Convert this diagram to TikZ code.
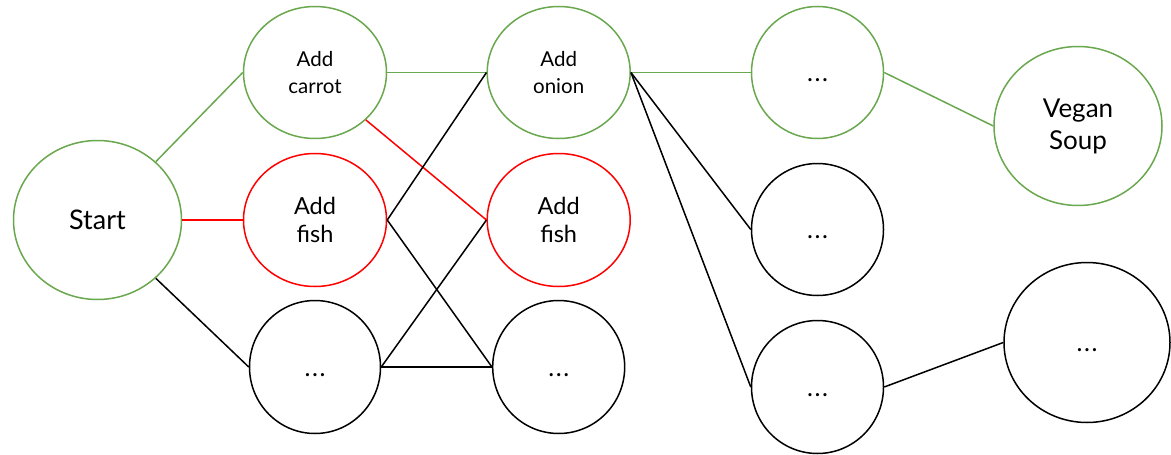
\documentclass[tikz,border=0pt]{standalone}
\usepackage{fontspec}
\setmainfont{Lato}
\usetikzlibrary{shapes.geometric}
\definecolor{vgreen}{HTML}{6AA84F}
\definecolor{vred}{HTML}{FF0000}
\newcommand{\mydots}{.\kern1.6pt.\kern1.6pt.}
\tikzset{
  state/.style={ellipse, draw, line width=1.5pt, inner sep=0pt, align=center, text=black},
  gstate/.style={state, draw=vgreen},
  rstate/.style={state, draw=vred},
  kstate/.style={state, draw=black},
  small/.style={font=\fontsize{20.5}{26.7}\selectfont},
  mid/.style={font=\fontsize{23.5}{28}\selectfont},
  big/.style={font=\fontsize{26}{32}\selectfont},
  dots/.style={font=\fontsize{25}{25}\selectfont, text height=18.6pt, text depth=0pt},
  gedge/.style={draw=vgreen, line width=1.5pt},
  redge/.style={draw=vred, line width=1.5pt},
  kedge/.style={draw=black, line width=1.5pt},
}
\begin{document}
\begin{tikzpicture}[x=1pt,y=-1pt]
\useasboundingbox (0,0) rectangle (1171,455);
\node[gstate, big, font=\fontsize{27}{32}\selectfont, minimum width=168pt, minimum height=159pt] (start) at (97.5,220) {Start};
\node[gstate, small, minimum width=143pt, minimum height=132pt] (carrot) at (315,72.5) {Add\\carrot};
\node[rstate, mid, minimum width=143pt, minimum height=133pt] (fish1) at (315,220) {Add\\fish};
\node[kstate, dots, minimum width=131pt, minimum height=133pt] (d1) at (315,367) {\mydots};
\node[gstate, small, minimum width=143pt, minimum height=132pt] (onion) at (558.7,72.5) {Add\\onion};
\node[rstate, mid, minimum width=143pt, minimum height=133pt] (fish2) at (558.7,220) {Add\\fish};
\node[kstate, dots, minimum width=132pt, minimum height=133pt] (d2) at (558.7,367) {\mydots};
\node[gstate, dots, minimum width=132pt, minimum height=132pt] (c3a) at (817.5,72.5) {\mydots};
\node[kstate, dots, minimum width=132pt, minimum height=132pt] (c3b) at (817.5,229.5) {\mydots};
\node[kstate, dots, minimum width=132pt, minimum height=133pt] (c3c) at (817.5,387) {\mydots};
\node[gstate, big, minimum width=168pt, minimum height=159pt] (vegan) at (1078,126) {Vegan\\Soup};
\node[kstate, dots, minimum width=166pt, minimum height=160pt] (rd) at (1087,342.5) {\mydots};
\draw[gedge] (start.45) -- (carrot.west);
\draw[redge] (start.east) -- (fish1.west);
\draw[kedge] (start.-45) -- (d1.west);
\draw[gedge] (carrot.east) -- (onion.west);
\draw[redge] (carrot.-43) -- (fish2.west);
\draw[kedge] (fish1.east) -- (onion.west);
\draw[kedge] (fish1.east) -- (d2.west);
\draw[kedge] (d1.east) -- (fish2.west);
\draw[kedge] (d1.east) -- (d2.west);
\draw[gedge] (onion.east) -- (c3a.west);
\draw[kedge] (onion.east) -- (c3b.west);
\draw[kedge] (onion.east) -- (c3c.west);
\draw[gedge] (c3a.east) -- (vegan.west);
\draw[kedge] (c3c.east) -- (rd.west);
\end{tikzpicture}
\end{document}
